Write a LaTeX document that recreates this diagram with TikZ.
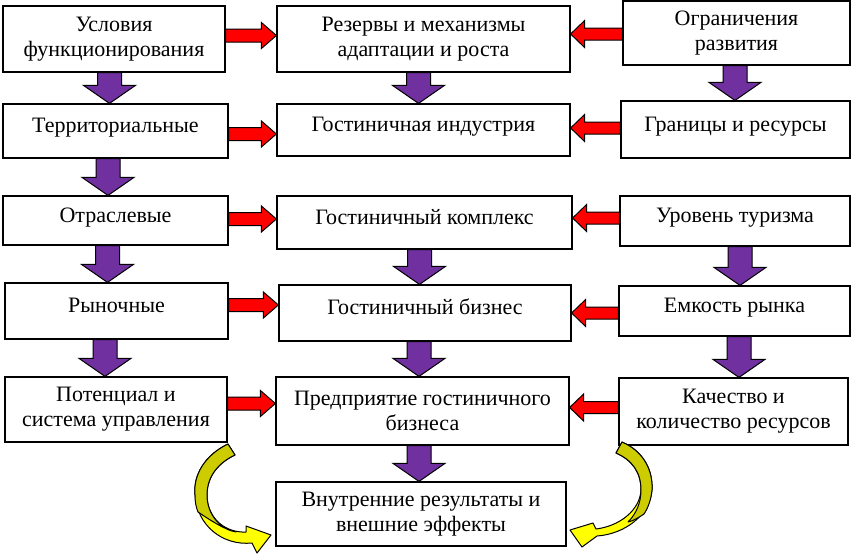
\documentclass[tikz,border=0pt]{standalone}
\usepackage{fontspec}
\setmainfont{Liberation Serif}
\usetikzlibrary{calc}
\definecolor{purp}{HTML}{7030A0}
\definecolor{yel}{HTML}{FFFF00}
\definecolor{ydark}{HTML}{CCCC00}
\newcommand{\purpdown}[3]{%
  \filldraw[parrow] let \p1=(#1.south), \p2=(#2.north) in
   (#3pt-12pt,\y1) -- (#3pt+12pt,\y1) -- (#3pt+12pt,\y2+18pt) -- (#3pt+26pt,\y2+18pt)
   -- (#3pt,\y2) -- (#3pt-26pt,\y2+18pt) -- (#3pt-12pt,\y2+18pt) -- cycle;}
\newcommand{\redright}[3]{%
  \filldraw[rarrow] let \p1=(#1.east), \p2=(#2.west) in
   (\x1,-#3pt+6.5pt) -- (\x2-15pt,-#3pt+6.5pt) -- (\x2-15pt,-#3pt+13pt) -- (\x2,-#3pt)
   -- (\x2-15pt,-#3pt-13pt) -- (\x2-15pt,-#3pt-6.5pt) -- (\x1,-#3pt-6.5pt) -- cycle;}
\newcommand{\redleft}[3]{%
  \filldraw[rarrow] let \p1=(#1.west), \p2=(#2.east) in
   (\x1,-#3pt+6pt) -- (\x2+14pt,-#3pt+6pt) -- (\x2+14pt,-#3pt+13.5pt) -- (\x2,-#3pt)
   -- (\x2+14pt,-#3pt-13.5pt) -- (\x2+14pt,-#3pt-6pt) -- (\x1,-#3pt-6pt) -- cycle;}
\begin{document}
\begin{tikzpicture}[x=1pt,y=-1pt,
  box/.style={draw=black, line width=1.2pt, fill=white, align=center,
    font=\fontsize{22}{25}\selectfont, inner sep=0pt},
  oneline/.style={text height=15pt, text depth=12pt},
  parrow/.style={fill=purp, draw=black, line width=1pt, line join=miter},
  rarrow/.style={fill=red, draw=black, line width=1pt, line join=miter},
  yarrow/.style={fill=yel, draw=black, line width=1pt, line join=round},
  ydarkpart/.style={fill=ydark, draw=black, line width=1pt, line join=round}]
\useasboundingbox (0,0) rectangle (852,555);
% left column
\node[box, minimum width=222pt, minimum height=66pt] (L1) at (114,39) {Условия\\функционирования};
\node[box, oneline, minimum width=225pt, minimum height=54pt] (L2) at (115.5,131) {Территориальные};
\node[box, oneline, minimum width=225pt, minimum height=49pt] (L3) at (115.5,220.5) {Отраслевые};
\node[box, oneline, minimum width=223pt, minimum height=56pt] (L4) at (116.5,311) {Рыночные};
\node[box, minimum width=222pt, minimum height=65pt] (L5) at (116,409.5) {Потенциал и\\система управления};
% middle column
\node[box, minimum width=293pt, minimum height=66pt] (M1) at (423.5,39) {Резервы и механизмы\\адаптации и роста};
\node[box, oneline, minimum width=293pt, minimum height=52pt] (M2) at (423.5,130) {Гостиничная индустрия};
\node[box, oneline, minimum width=295pt, minimum height=53pt] (M3) at (424.5,222.5) {Гостиничный комплекс};
\node[box, oneline, minimum width=292pt, minimum height=56pt] (M4) at (425,313) {Гостиничный бизнес};
\node[box, minimum width=293pt, minimum height=68pt] (M5) at (422.5,411) {Предприятие гостиничного\\бизнеса};
\node[box, minimum width=290pt, minimum height=64pt] (M6) at (421,514) {Внутренние результаты и\\внешние эффекты};
% right column
\node[box, minimum width=227pt, minimum height=64pt] (R1) at (736.5,33) {Ограничения\\развития};
\node[box, oneline, minimum width=229pt, minimum height=57pt] (R2) at (735.5,129.5) {Границы и ресурсы};
\node[box, oneline, minimum width=230pt, minimum height=50pt] (R3) at (735,221) {Уровень туризма};
\node[box, oneline, minimum width=231pt, minimum height=50pt] (R4) at (734.5,311) {Емкость рынка};
\node[box, minimum width=229pt, minimum height=67pt] (R5) at (733.5,411.5) {Качество и\\количество ресурсов};
% purple down arrows
\purpdown{L1}{L2}{109.5}
\purpdown{L2}{L3}{108}
\purpdown{L3}{L4}{107.5}
\purpdown{L4}{L5}{105}
\purpdown{M1}{M2}{418.5}
\purpdown{M3}{M4}{419.5}
\purpdown{M4}{M5}{419}
\purpdown{M5}{M6}{419}
\purpdown{R1}{R2}{735}
\purpdown{R3}{R4}{740}
\purpdown{R4}{R5}{739}
% red arrows
\redright{L1}{M1}{35.5}
\redright{L2}{M2}{134}
\redright{L3}{M3}{219}
\redright{L4}{M4}{305}
\redright{L5}{M5}{403.5}
\redleft{R1}{M1}{34}
\redleft{R2}{M2}{128}
\redleft{R3}{M3}{218}
\redleft{R4}{M4}{313}
\redleft{R5}{M5}{407.5}
% yellow curved arrows
\filldraw[yarrow] (228,444) .. controls (205,455) and (193,475) .. (195,495)
  .. controls (197,525) and (222,546) .. (252,543) -- (257,553) -- (271,535) -- (246,526) -- (246,532)
  .. controls (225,533) and (207,518) .. (207,495)
  .. controls (207,475) and (220,462) .. (235,455) -- cycle;
\filldraw[ydarkpart] (228,444) .. controls (205,455) and (193,475) .. (195,495)
  .. controls (195,502) and (196,507) .. (198,512)
  .. controls (210,520) and (225,530) .. (236,532)
  .. controls (222,530) and (207,516) .. (207,495)
  .. controls (207,475) and (220,462) .. (235,455) -- cycle;
\filldraw[yarrow] (622,442) .. controls (645,452) and (653,472) .. (652,490)
  .. controls (650,515) and (625,534) .. (597,536) -- (582,547) -- (570,530) -- (593,523) -- (596,529)
  .. controls (620,526) and (640,510) .. (641,490)
  .. controls (641,472) and (632,460) .. (616,453) -- cycle;
\filldraw[ydarkpart] (622,442) .. controls (645,452) and (653,472) .. (652,490)
  .. controls (651,500) and (648,508) .. (644,514)
  .. controls (638,518) and (633,521) .. (628,522)
  .. controls (636,514) and (641,503) .. (641,490)
  .. controls (641,472) and (632,460) .. (616,453) -- cycle;
\end{tikzpicture}
\end{document}
